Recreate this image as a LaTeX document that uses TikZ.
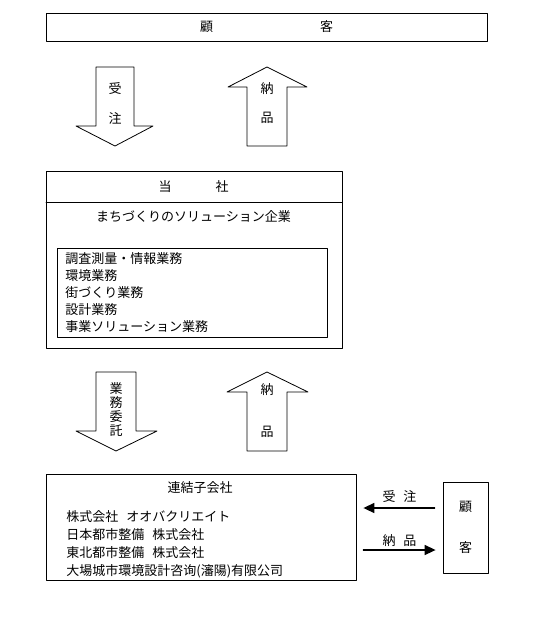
\documentclass[tikz,border=0pt]{standalone}
\usepackage{fontspec}
\setmainfont{Noto Sans CJK JP}
\usetikzlibrary{arrows.meta}

\begin{document}
\begin{tikzpicture}[line cap=round,line join=round,>={Triangle[length=11pt,width=10pt]},x=1pt,y=-1pt,
  line width=0.8pt,
  every node/.style={font=\fontsize{13pt}{17pt}\selectfont},
  waku/.style={draw,inner sep=0pt}]
\useasboundingbox (0,0) rectangle (552,641);
% boxes
\node [waku,minimum width=441pt,minimum height=28pt] (kokyaku) at (266.5,27) {};
\node at (kokyaku) {顧\hspace{107pt}客};
\node [waku,minimum width=296pt,minimum height=177pt] (tousha) at (194,259.5) {};
\draw (46,202)--(342,202);
\node (toushaname) at (193.5,187) {当\hspace{44pt}社};
\node (kigyou) at (193.5,217) {まちづくりのソリューション企業};
\node [waku,minimum width=270pt,minimum height=89pt] (gyoumu) at (192,292.5) {};
\node [anchor=west,align=left,inner sep=0pt] (gyoumulist) at (65,293) {調査測量・情報業務\\環境業務\\街づくり業務\\設計業務\\事業ソリューション業務};
\node [waku,minimum width=310pt,minimum height=106pt] (renketsu) at (201,527) {};
\node (renketsuname) at (200,488) {連結子会社};
\node [anchor=west,align=left,inner sep=0pt,font=\fontsize{13pt}{18pt}\selectfont] (kogaisha) at (66,544) {株式会社\hspace{8pt}オオバクリエイト\\日本都市整備\hspace{8pt}株式会社\\東北都市整備\hspace{8pt}株式会社\\大場城市環境設計咨询(瀋陽)有限公司};
\node [waku,minimum width=45pt,minimum height=91pt] (kokyaku2) at (465.5,527.5) {};
\node at (465.5,507) {顧};
\node at (465.5,548) {客};
% big arrows
\draw (96,67)--(134,67)--(134,126)--(153,126)--(115,146)--(76,126)--(96,126)--cycle;
\node at (115,89) {受};
\node at (115,118) {注};
\draw (267,67)--(307,87)--(287,87)--(287,146)--(247,146)--(247,87)--(228,87)--cycle;
\node at (267,89) {納};
\node at (267,118) {品};
\draw (96,372)--(136,372)--(136,431)--(157,431)--(116,451)--(76,431)--(96,431)--cycle;
\node [align=center,font=\fontsize{13pt}{14pt}\selectfont] at (116,409) {業\\務\\委\\託};
\draw (267,372)--(308,392)--(287,392)--(287,451)--(247,451)--(247,392)--(227,392)--cycle;
\node at (267,390) {納};
\node at (267,432) {品};
% order / delivery
\draw [->,line width=1.5pt,shorten <=8pt,shorten >=7pt] ([yshift=19.5pt]kokyaku2.west)--([yshift=19.5pt]kokyaku2.west -| renketsu.east)
  node [midway,above=1pt] {受\hspace{8pt}注};
\draw [->,line width=1.5pt,shorten <=7pt,shorten >=7pt] ([yshift=-22.5pt]kokyaku2.west -| renketsu.east)--([yshift=-22.5pt]kokyaku2.west)
  node [midway,above=-1pt] {納\hspace{8pt}品};
\end{tikzpicture}
\end{document}
